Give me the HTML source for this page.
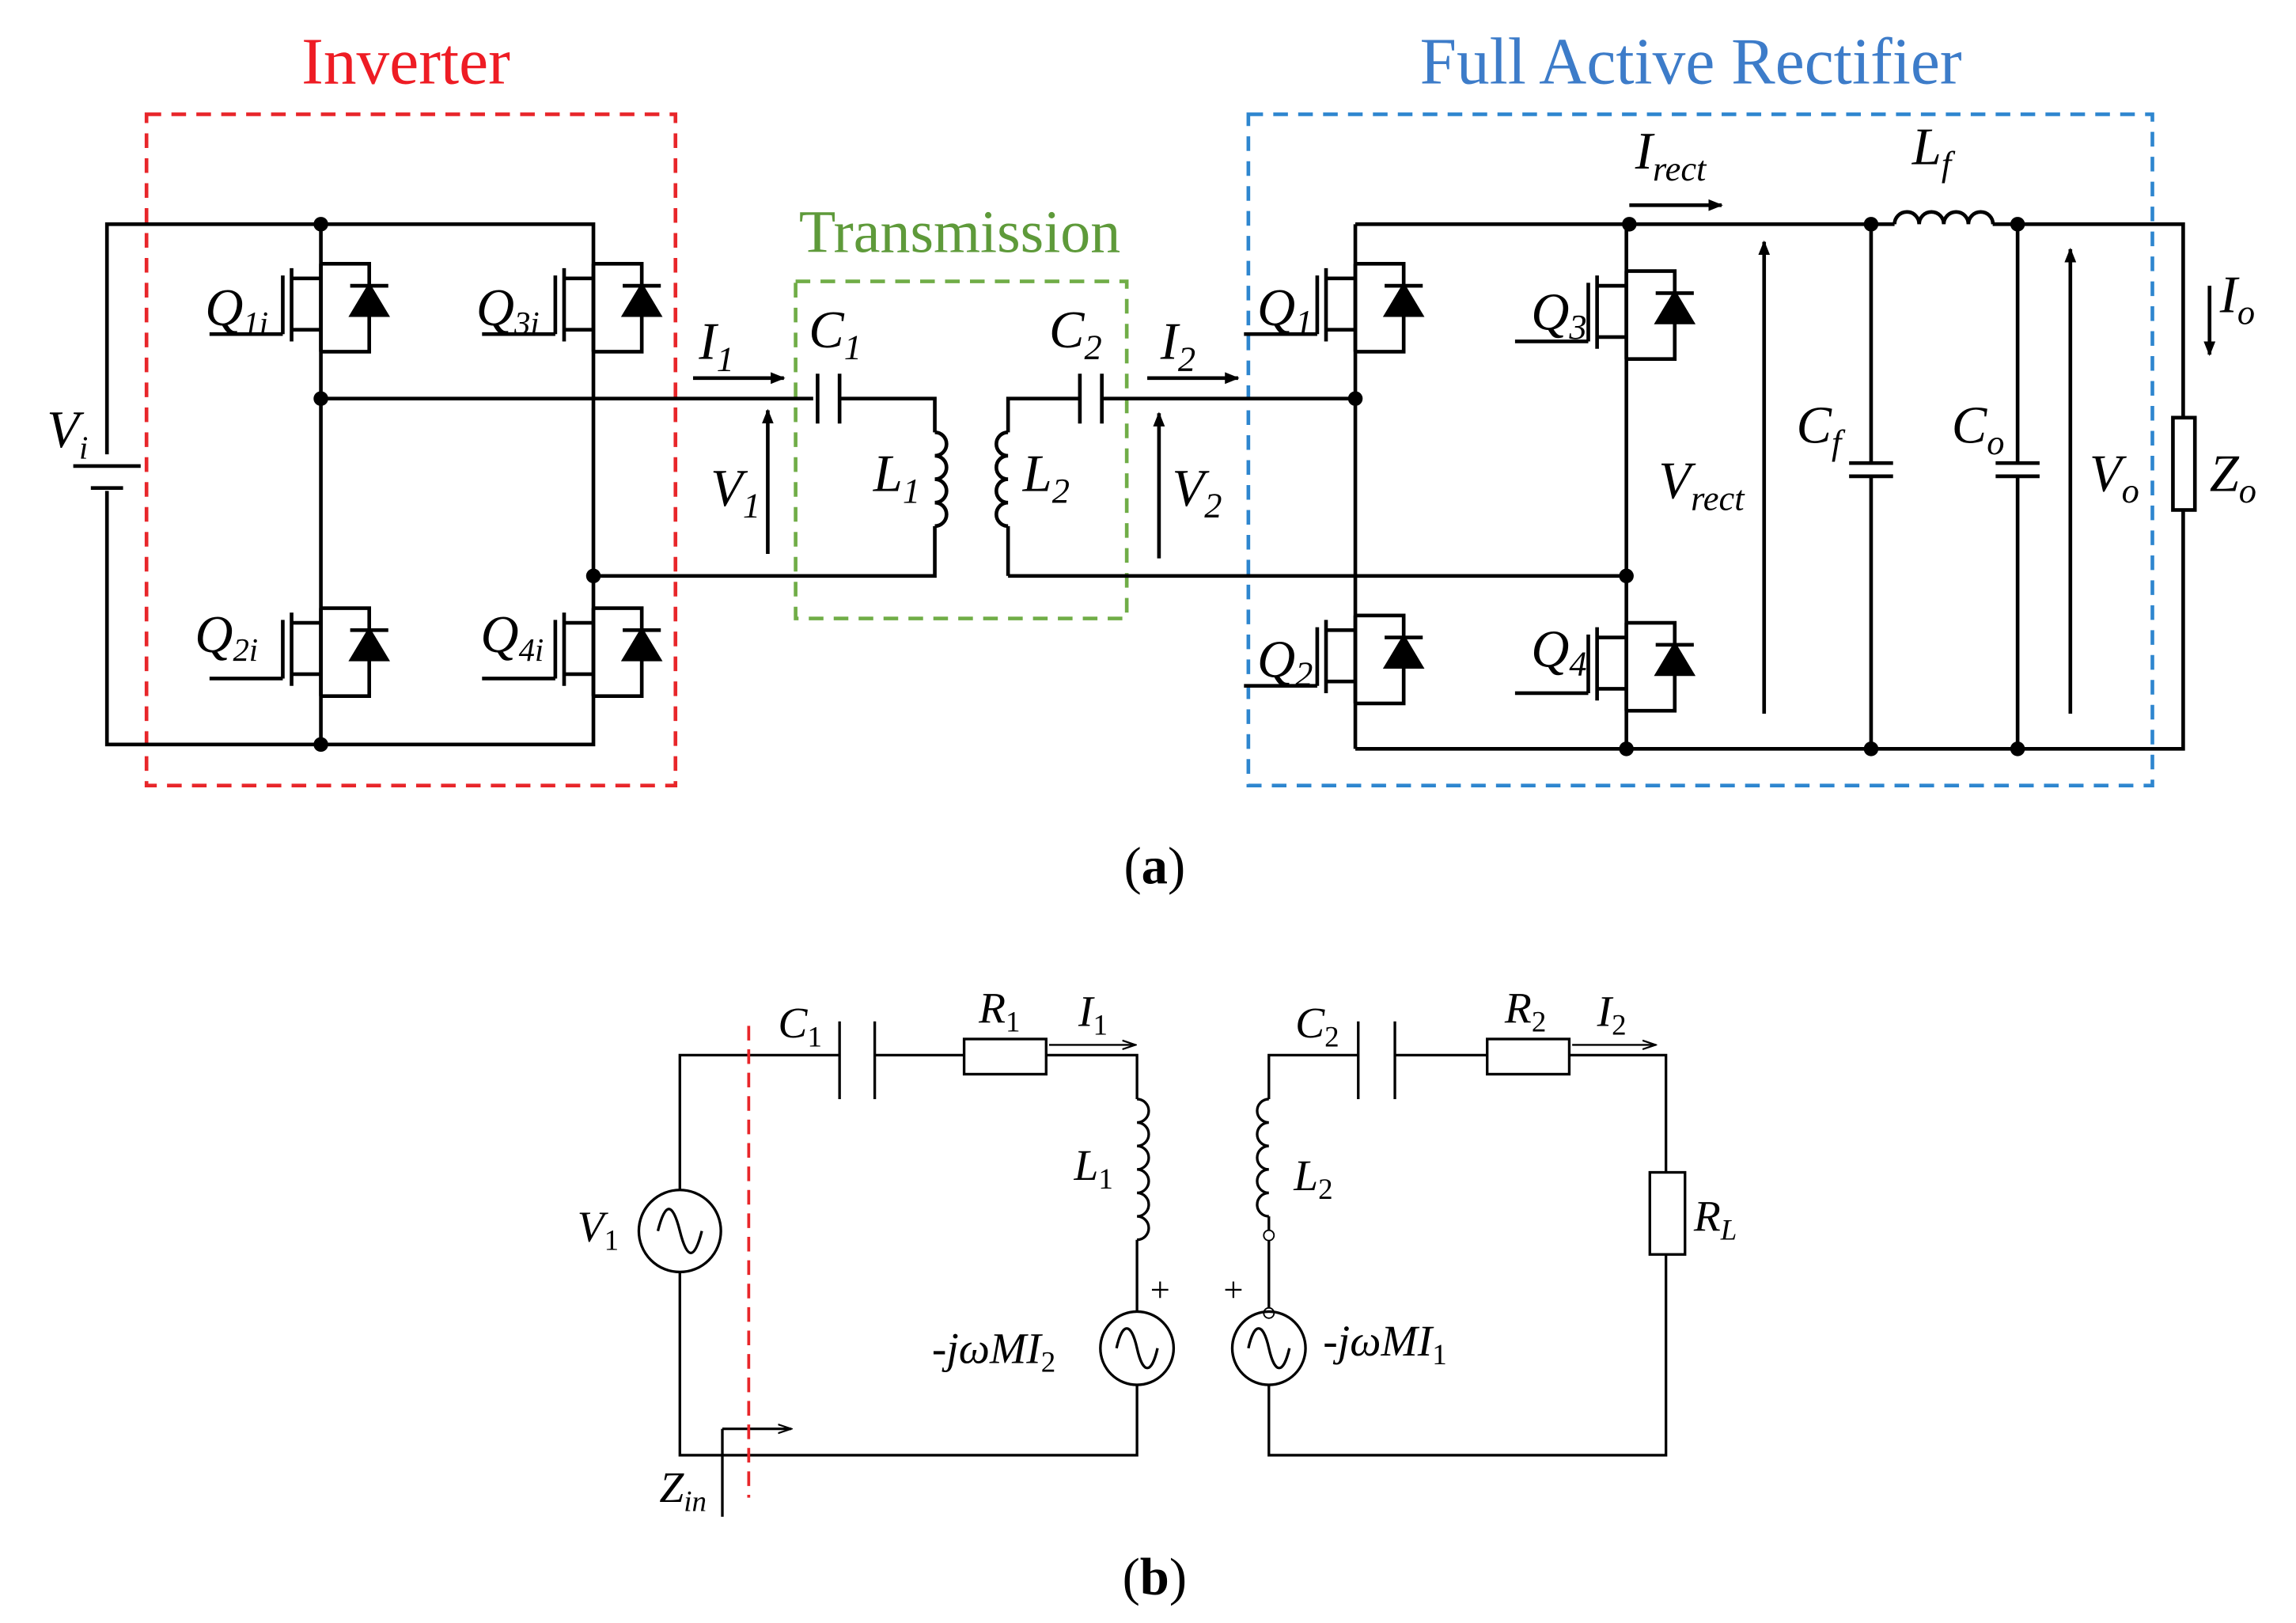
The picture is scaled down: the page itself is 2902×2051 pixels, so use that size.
<!DOCTYPE html>
<html><head><meta charset="utf-8"><style>
html,body{margin:0;padding:0;background:#fff;}
svg{display:block;}
text{font-family:"Liberation Serif",serif;}
.it{font-style:italic;font-size:36px;}
</style></head><body>
<svg width="2902" height="2051" viewBox="0 0 1567 1107.5" preserveAspectRatio="none" xmlns="http://www.w3.org/2000/svg">
<defs>
<g id="mos" stroke="#000" stroke-width="2.5" fill="none">
<line x1="0" y1="0" x2="0" y2="60"/>
<line x1="-20" y1="3" x2="-20" y2="53"/>
<line x1="-26" y1="8" x2="-26" y2="48"/>
<line x1="-76" y1="48" x2="-26" y2="48"/>
<line x1="-20" y1="10" x2="0" y2="10"/>
<line x1="-20" y1="45" x2="0" y2="45"/>
<polyline points="0,0 33,0 33,60 0,60"/>
<polygon points="21,35 45,35 33,15" fill="#000"/>
<line x1="20" y1="15" x2="46" y2="15"/>
</g>
<marker id="ar" markerWidth="10" markerHeight="10" refX="9" refY="5" orient="auto" markerUnits="userSpaceOnUse"><path d="M0,1 L10,5 L0,9 z" fill="#000"/></marker>
<marker id="ar2" markerWidth="10" markerHeight="8" refX="9" refY="4" orient="auto" markerUnits="userSpaceOnUse"><path d="M0,1 L9,4 L0,7" fill="none" stroke="#000" stroke-width="1.2"/></marker>
</defs>
<rect width="1600" height="1120" fill="#fff"/>
<rect x="100" y="78" width="361" height="458" fill="none" stroke="#e8262a" stroke-width="2.5" stroke-dasharray="10,7"/>
<text x="277" y="57" font-size="45" fill="#ee1c24" text-anchor="middle">Inverter</text>
<rect x="543" y="192" width="226" height="230" fill="none" stroke="#70ad47" stroke-width="2.5" stroke-dasharray="10,7"/>
<text x="655" y="172" font-size="41" fill="#5e9a3a" text-anchor="middle">Transmission</text>
<rect x="852" y="78" width="617" height="458" fill="none" stroke="#2e86cf" stroke-width="2.5" stroke-dasharray="10,7"/>
<text x="1154" y="57" font-size="45" fill="#3d7cc9" text-anchor="middle">Full Active Rectifier</text>
<g stroke="#000" stroke-width="2.5" fill="none">
<polyline points="73,310 73,153 405,153 405,240"/>
<polyline points="73,335 73,508 405,508 405,415"/>
<line x1="50" y1="318" x2="96" y2="318"/>
<line x1="62" y1="333" x2="84" y2="333"/>
<line x1="219" y1="153" x2="219" y2="508"/>
<line x1="405" y1="240" x2="405" y2="415"/>
<polyline points="219,272 555,272"/>
<line x1="558" y1="255" x2="558" y2="289"/>
<line x1="573" y1="255" x2="573" y2="289"/>
<polyline points="573,272 638,272 638,295"/>
<path d="M638,295 a8 8 0 0 1 0 16 a8 8 0 0 1 0 16 a8 8 0 0 1 0 16 a8 8 0 0 1 0 16"/>
<polyline points="638,359 638,393 405,393"/>
<polyline points="688,393 688,359"/>
<path d="M688,295 a8 8 0 0 0 0 16 a8 8 0 0 0 0 16 a8 8 0 0 0 0 16 a8 8 0 0 0 0 16"/>
<polyline points="688,295 688,272 737,272"/>
<line x1="737" y1="255" x2="737" y2="289"/>
<line x1="752" y1="255" x2="752" y2="289"/>
<line x1="752" y1="272" x2="925" y2="272"/>
<line x1="688" y1="393" x2="1110" y2="393"/>
<line x1="925" y1="153" x2="925" y2="511"/>
<line x1="1110" y1="153" x2="1110" y2="511"/>
<polyline points="925,153 1293,153"/>
<path d="M1293,153 a8.4 8.4 0 0 1 16.8 0 a8.4 8.4 0 0 1 16.8 0 a8.4 8.4 0 0 1 16.8 0 a8.4 8.4 0 0 1 16.8 0"/>
<polyline points="1360,153 1490,153 1490,285"/>
<polyline points="1490,348 1490,511 925,511"/>
<rect x="1483" y="285" width="15" height="63"/>
<line x1="1277" y1="153" x2="1277" y2="316"/>
<line x1="1277" y1="325" x2="1277" y2="511"/>
<line x1="1262" y1="316" x2="1292" y2="316"/>
<line x1="1262" y1="325" x2="1292" y2="325"/>
<line x1="1377" y1="153" x2="1377" y2="316"/>
<line x1="1377" y1="325" x2="1377" y2="511"/>
<line x1="1362" y1="316" x2="1392" y2="316"/>
<line x1="1362" y1="325" x2="1392" y2="325"/>
<line x1="473" y1="258" x2="535" y2="258" marker-end="url(#ar)"/>
<line x1="524" y1="378" x2="524" y2="280" marker-end="url(#ar)"/>
<line x1="783" y1="258" x2="845" y2="258" marker-end="url(#ar)"/>
<line x1="791" y1="381" x2="791" y2="282" marker-end="url(#ar)"/>
<line x1="1112" y1="140" x2="1175" y2="140" marker-end="url(#ar)"/>
<line x1="1204" y1="487" x2="1204" y2="165" marker-end="url(#ar)"/>
<line x1="1413" y1="487" x2="1413" y2="170" marker-end="url(#ar)"/>
<line x1="1508" y1="195" x2="1508" y2="242" marker-end="url(#ar)"/>
</g>
<use href="#mos" x="219" y="180"/><use href="#mos" x="405" y="180"/>
<use href="#mos" x="219" y="415"/><use href="#mos" x="405" y="415"/>
<use href="#mos" x="925" y="180"/><use href="#mos" x="1110" y="185"/>
<use href="#mos" x="925" y="420"/><use href="#mos" x="1110" y="425"/>
<g fill="#000">
<circle cx="219" cy="153" r="5"/><circle cx="219" cy="508" r="5"/><circle cx="219" cy="272" r="5"/><circle cx="405" cy="393" r="5"/>
<circle cx="925" cy="272" r="5"/><circle cx="1110" cy="393" r="5"/>
<circle cx="1112" cy="153" r="5"/><circle cx="1277" cy="153" r="5"/><circle cx="1377" cy="153" r="5"/>
<circle cx="1110" cy="511" r="5"/><circle cx="1277" cy="511" r="5"/><circle cx="1377" cy="511" r="5"/>
</g>
<g class="it">
<text x="32" y="305">V<tspan font-size="22" dy="8">i</tspan></text>
<text x="140" y="222">Q<tspan font-size="22" dy="6">1i</tspan></text>
<text x="325" y="222">Q<tspan font-size="22" dy="6">3i</tspan></text>
<text x="133" y="445">Q<tspan font-size="22" dy="6">2i</tspan></text>
<text x="328" y="445">Q<tspan font-size="22" dy="6">4i</tspan></text>
<text x="477" y="245">I<tspan font-size="24" dy="8">1</tspan></text>
<text x="552" y="237">C<tspan font-size="24" dy="8">1</tspan></text>
<text x="716" y="237">C<tspan font-size="24" dy="8">2</tspan></text>
<text x="792" y="245">I<tspan font-size="24" dy="8">2</tspan></text>
<text x="485" y="345">V<tspan font-size="24" dy="8">1</tspan></text>
<text x="596" y="335">L<tspan font-size="24" dy="8">1</tspan></text>
<text x="698" y="335">L<tspan font-size="24" dy="8">2</tspan></text>
<text x="800" y="345">V<tspan font-size="24" dy="8">2</tspan></text>
<text x="858" y="222">Q<tspan font-size="24" dy="6">1</tspan></text>
<text x="1045" y="225">Q<tspan font-size="24" dy="6">3</tspan></text>
<text x="858" y="462">Q<tspan font-size="24" dy="6">2</tspan></text>
<text x="1045" y="455">Q<tspan font-size="24" dy="6">4</tspan></text>
<text x="1116" y="115">I<tspan font-size="24" dy="8">rect</tspan></text>
<text x="1305" y="112">L<tspan font-size="24" dy="8">f</tspan></text>
<text x="1132" y="340">V<tspan font-size="24" dy="8">rect</tspan></text>
<text x="1226" y="302">C<tspan font-size="24" dy="8">f</tspan></text>
<text x="1332" y="302">C<tspan font-size="24" dy="8">o</tspan></text>
<text x="1426" y="335">V<tspan font-size="24" dy="8">o</tspan></text>
<text x="1515" y="213">I<tspan font-size="24" dy="8">o</tspan></text>
<text x="1508" y="335">Z<tspan font-size="24" dy="8">o</tspan></text>
</g>
<text x="788" y="603" font-size="36" text-anchor="middle">(<tspan font-weight="bold">a</tspan>)</text>
<g stroke="#000" stroke-width="1.8" fill="none">
<polyline points="464,812 464,720 573,720"/>
<line x1="573" y1="697" x2="573" y2="750"/><line x1="597" y1="697" x2="597" y2="750"/>
<line x1="597" y1="720" x2="658" y2="720"/>
<rect x="658" y="709" width="56" height="24"/>
<polyline points="714,720 776,720 776,750"/>
<path d="M776,750 a8 8 0 0 1 0 16 a8 8 0 0 1 0 16 a8 8 0 0 1 0 16 a8 8 0 0 1 0 16 a8 8 0 0 1 0 16 a8 8 0 0 1 0 16"/>
<line x1="776" y1="846" x2="776" y2="895"/>
<circle cx="776" cy="920" r="25"/>
<path d="M762,920 c4,-18 10,-18 14,0 s10,18 14,0"/>
<polyline points="776,945 776,993 464,993 464,868"/>
<circle cx="464" cy="840" r="28"/>
<path d="M449,840 c5,-20 10,-20 15,0 s10,20 15,0"/>
<line x1="493" y1="1035" x2="493" y2="975"/>
<line x1="493" y1="975" x2="540" y2="975" marker-end="url(#ar2)"/>
<line x1="716" y1="713" x2="775" y2="713" stroke-width="1.3" marker-end="url(#ar2)"/>
<polyline points="866,750 866,720 927,720"/>
<line x1="927" y1="697" x2="927" y2="750"/><line x1="952" y1="697" x2="952" y2="750"/>
<line x1="952" y1="720" x2="1015" y2="720"/>
<rect x="1015" y="709" width="56" height="24"/>
<polyline points="1071,720 1137,720 1137,800"/>
<line x1="1073" y1="713" x2="1130" y2="713" stroke-width="1.3" marker-end="url(#ar2)"/>
<rect x="1126" y="800" width="24" height="56"/>
<polyline points="1137,856 1137,993 866,993 866,945"/>
<path d="M866,750 a8 8 0 0 0 0 16 a8 8 0 0 0 0 16 a8 8 0 0 0 0 16 a8 8 0 0 0 0 16 a8 8 0 0 0 0 16"/>
<line x1="866" y1="830" x2="866" y2="895"/>
<circle cx="866" cy="843" r="3.5" fill="#fff" stroke-width="1"/>
<circle cx="866" cy="896" r="3.5" fill="#fff" stroke-width="1"/>
<circle cx="866" cy="920" r="25"/>
<path d="M852,920 c4,-18 10,-18 14,0 s10,18 14,0"/>
</g>
<line x1="511" y1="700" x2="511" y2="1022" stroke="#e8262a" stroke-width="2" stroke-dasharray="10,6"/>
<g font-size="30" font-style="italic">
<text x="531" y="708">C<tspan font-size="20" font-style="normal" dy="6">1</tspan></text>
<text x="668" y="698">R<tspan font-size="20" font-style="normal" dy="6">1</tspan></text>
<text x="736" y="700">I<tspan font-size="20" font-style="normal" dy="6">1</tspan></text>
<text x="884" y="708">C<tspan font-size="20" font-style="normal" dy="6">2</tspan></text>
<text x="1027" y="698">R<tspan font-size="20" font-style="normal" dy="6">2</tspan></text>
<text x="1090" y="700">I<tspan font-size="20" font-style="normal" dy="6">2</tspan></text>
<text x="733" y="805">L<tspan font-size="20" font-style="normal" dy="6">1</tspan></text>
<text x="883" y="812">L<tspan font-size="20" font-style="normal" dy="6">2</tspan></text>
<text x="394" y="847">V<tspan font-size="20" font-style="normal" dy="6">1</tspan></text>
<text x="1156" y="840">R<tspan font-size="20" dy="6">L</tspan></text>
<text x="636" y="930">-jωMI<tspan font-size="20" font-style="normal" dy="6">2</tspan></text>
<text x="903" y="925">-jωMI<tspan font-size="20" font-style="normal" dy="6">1</tspan></text>
<text x="450" y="1025">Z<tspan font-size="20" dy="6">in</tspan></text>
</g>
<text x="785" y="888" font-size="24">+</text>
<text x="835" y="888" font-size="24">+</text>
<text x="788" y="1088" font-size="36" text-anchor="middle">(<tspan font-weight="bold">b</tspan>)</text>
</svg>
</body></html>
